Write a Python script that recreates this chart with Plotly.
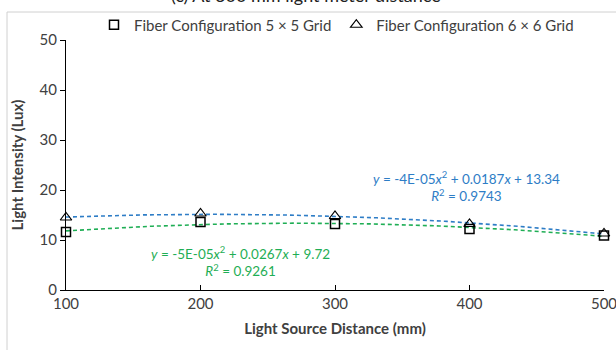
import numpy as np
import plotly.graph_objects as go

distance = [100, 200, 300, 400, 500]
grid5 = [11.6, 13.6, 13.2, 12.2, 10.9]
grid6 = [14.5, 15.3, 14.8, 13.2, 11.3]
name5 = "Fiber Configuration 5 × 5 Grid"
name6 = "Fiber Configuration 6 × 6 Grid"
eq5 = "<i>y</i> = -5E-05<i>x</i><sup>2</sup> + 0.0267<i>x</i> + 9.72<br><i>R</i><sup>2</sup> = 0.9261"
eq6 = "<i>y</i> = -4E-05<i>x</i><sup>2</sup> + 0.0187<i>x</i> + 13.34<br><i>R</i><sup>2</sup> = 0.9743"
title = "(c) At 300 mm light meter distance"

BLUE = "#2E7DC6"
GREEN = "#1FAE55"
FONT = "Lato"

W, H = 616, 350
L, R, T, B = 66, 12, 40, 60
pw, ph = W - L - R, H - T - B

def px(sx):
    return (sx - L) / pw

def py(sy):
    return (H - B - sy) / ph

xs = np.linspace(100, 500, 200)
fit5 = np.polyval(np.polyfit(distance, grid5, 2), xs)
fit6 = np.polyval(np.polyfit(distance, grid6, 2), xs)

fig = go.Figure()
fig.add_trace(go.Scatter(x=xs, y=fit6, mode="lines", showlegend=False, hoverinfo="skip",
                         line=dict(color=BLUE, width=1.6, dash="4px,3px")))
fig.add_trace(go.Scatter(x=xs, y=fit5, mode="lines", showlegend=False, hoverinfo="skip",
                         line=dict(color=GREEN, width=1.6, dash="4px,3px")))
fig.add_trace(go.Scatter(x=distance, y=grid5, mode="markers", name=name5, cliponaxis=False,
                         marker=dict(symbol="square-open", size=9, color="black", line=dict(width=1.5))))
fig.add_trace(go.Scatter(x=distance, y=grid6, mode="markers", name=name6, cliponaxis=False,
                         marker=dict(symbol="triangle-up-open", size=10, color="black", line=dict(width=1.2))))

fig.add_annotation(x=px(466), y=py(186), xref="paper", yref="paper", text=eq6, showarrow=False,
                   xanchor="center", yanchor="middle",
                   font=dict(family=FONT, size=13.5, color=BLUE), align="center")
fig.add_annotation(x=px(240), y=py(261), xref="paper", yref="paper", text=eq5, showarrow=False,
                   xanchor="center", yanchor="middle",
                   font=dict(family=FONT, size=13.5, color=GREEN), align="center")
fig.add_annotation(x=px(306), y=py(-5), xref="paper", yref="paper", text=title, showarrow=False,
                   xanchor="center", yanchor="middle",
                   font=dict(family=FONT, size=18, color="#222222"))

fig.add_shape(type="line", xref="paper", yref="paper", x0=px(7), x1=px(640), y0=py(12), y1=py(12),
              line=dict(color="#D0D0D0", width=1))
fig.add_shape(type="line", xref="paper", yref="paper", x0=px(7), x1=px(7), y0=py(12), y1=py(360),
              line=dict(color="#D0D0D0", width=1))

fig.update_layout(
    width=W, height=H,
    margin=dict(l=L, r=R, t=T, b=B, autoexpand=False),
    paper_bgcolor="white", plot_bgcolor="white",
    font=dict(family=FONT, size=15, color="#404040"),
    legend=dict(orientation="h", x=px(94), y=py(25), xref="paper", yref="paper",
                xanchor="left", yanchor="middle", font=dict(family=FONT, size=15, color="#404040"),
                bgcolor="rgba(0,0,0,0)"),
    xaxis=dict(range=[100, 500], tickvals=distance, showgrid=False, zeroline=False, automargin=False,
               showline=True, linecolor="black", linewidth=1.3, ticks="inside", ticklen=5,
               tickcolor="black", tickfont=dict(size=15, color="#404040"), ticklabeloverflow="allow",
               title=dict(text="<b>Light Source Distance (mm)</b>", font=dict(size=15, color="#404040"), standoff=12)),
    yaxis=dict(range=[0, 50], dtick=10, showgrid=False, zeroline=False, automargin=False,
               showline=True, linecolor="black", linewidth=1.3, ticks="outside", ticklen=5,
               tickcolor="black", tickfont=dict(size=15, color="#404040"), ticklabeloverflow="allow",
               title=dict(text="<b>Light Intensity (Lux)</b>", font=dict(size=15, color="#404040"), standoff=12)),
)

fig.write_html("out.html", config={"displayModeBar": False},
               post_script="document.body.style.margin='0';document.body.style.overflow='hidden';")
